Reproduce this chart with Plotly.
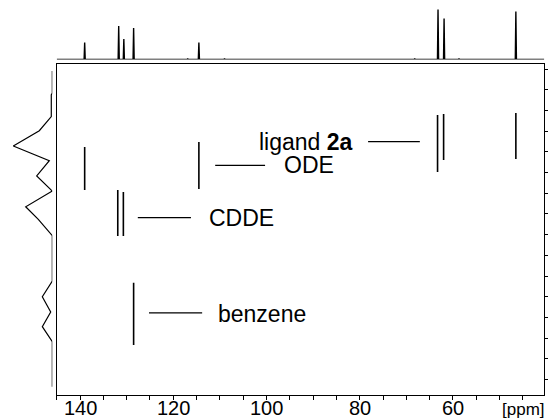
import plotly.graph_objects as go

# --- 1D 13C projection on top (ppm, relative intensity) ---
top_ppm = [139.0, 131.7, 130.6, 128.5, 116.9, 114.5, 109.0, 68.2, 63.2, 61.9, 58.7, 46.5]
top_int = [34, 67, 41, 63, 2, 34, 2, 2, 100, 82, 2, 96]

# --- 2D DOSY cross peaks: chemical shift and log D extent ---
peak_ppm = [139.0, 114.5, 131.9, 130.7, 128.5, 63.3, 62.0, 46.5]
peak_logd_top = [-9.224, -9.248, -9.016, -9.006, -8.567, -9.379, -9.384, -9.389]
peak_logd_bot = [-9.016, -9.021, -8.794, -8.794, -8.266, -9.103, -9.161, -9.166]

# --- diffusion projection on the left (log D, intensity) ---
proj_logd = [-9.592, -9.485, -9.476, -9.371, -9.303, -9.229, -9.158, -9.084, -9.011,
             -8.935, -8.874, -8.795, -8.576, -8.500, -8.426, -8.355, -8.282, -8.064]
proj_int = [0, 0, 2.6, 2.6, 33.3, 100, 7.7, 40, 0, 68.2, 35.9, 0, 0, 25.6, 4.1, 25.6, 0, 0]

# --- species labels ---
label_text = ["ligand <b>2a</b>", "ODE", "CDDE", "benzene"]
label_ppm = [101.8, 96.4, 112.5, 110.6]
label_logd = [-9.246, -9.135, -8.880, -8.418]
leader_logd = [-9.250, -9.135, -8.882, -8.422]
leader_from = [78.2, 111.0, 127.6, 125.2]
leader_to = [67.1, 100.3, 116.2, 113.8]

# --- chemical shift axis labels ---
ppm_ticks = [140, 120, 100, 80, 60]

X_RANGE = [145.0, 40.4]
Y_RANGE = [-8.0243, -9.6242]
FONT = "Liberation Sans, Arial, sans-serif"

# build the 1D spectrum as narrow sticks on a flat baseline
half_w = 0.12
spec_x, spec_y = [X_RANGE[0]], [0]
for p, h in sorted(zip(top_ppm, top_int), reverse=True):
    spec_x += [p + half_w, p, p - half_w]
    spec_y += [0, h, 0]
spec_x.append(X_RANGE[1])
spec_y.append(0)

# cross peaks as vertical segments
seg_x, seg_y = [], []
for p, a, b in zip(peak_ppm, peak_logd_top, peak_logd_bot):
    seg_x += [p, p, None]
    seg_y += [a, b, None]

fig = go.Figure()
fig.add_trace(go.Scatter(x=seg_x, y=seg_y, mode="lines",
                         line=dict(color="black", width=1.6), xaxis="x", yaxis="y",
                         hoverinfo="skip", showlegend=False))
fig.add_trace(go.Scatter(x=spec_x, y=spec_y, mode="lines",
                         line=dict(color="black", width=1.4), xaxis="x", yaxis="y3",
                         hoverinfo="skip", showlegend=False))
fig.add_trace(go.Scatter(x=proj_int, y=proj_logd, mode="lines",
                         line=dict(color="black", width=1.2), xaxis="x2", yaxis="y",
                         hoverinfo="skip", showlegend=False))

for t, px, ly, lly, a, b in zip(label_text, label_ppm, label_logd, leader_logd,
                                leader_from, leader_to):
    fig.add_annotation(x=px, y=ly, xref="x", yref="y", text=t, showarrow=False,
                       xanchor="left", yanchor="middle", borderpad=0,
                       font=dict(family=FONT, size=23, color="black"))
    fig.add_shape(type="line", xref="x", yref="y", x0=a, x1=b, y0=lly, y1=lly,
                  line=dict(color="black", width=1.2))

# tick labels sit close under the axis
for v in ppm_ticks:
    fig.add_annotation(x=v, y=0.0, xref="x", yref="paper", text=str(v),
                       showarrow=False, xanchor="center", yanchor="bottom", borderpad=0,
                       font=dict(family=FONT, size=20, color="black"))

fig.add_annotation(x=0.9559, y=0.0, xref="paper", yref="paper", text="[ppm]",
                   showarrow=False, xanchor="center", yanchor="bottom", borderpad=0,
                   font=dict(family=FONT, size=17, color="black"))

fig.update_layout(
    width=548, height=420, margin=dict(l=0, r=0, t=0, b=0, autoexpand=False),
    paper_bgcolor="white", plot_bgcolor="white",
    xaxis=dict(domain=[0.10347, 0.99325], range=X_RANGE, anchor="y", automargin=False,
               showgrid=False, zeroline=False, showline=True, mirror=True,
               linecolor="black", linewidth=1.2,
               ticks="outside", ticklen=4, tickwidth=1.2, tickcolor="black",
               tick0=0, dtick=20, showticklabels=False,
               minor=dict(dtick=5, ticks="outside", ticklen=4, tickwidth=1.2,
                          tickcolor="black", showgrid=False)),
    yaxis=dict(domain=[0.05952, 0.84690], range=Y_RANGE, anchor="x", side="right",
               automargin=False,
               showgrid=False, zeroline=False, showline=True, mirror=True,
               linecolor="black", linewidth=1.2,
               ticks="outside", ticklen=3, tickwidth=1.2, tickcolor="black",
               tick0=-9.6, dtick=0.1, showticklabels=False),
    xaxis2=dict(domain=[0, 0.09544], range=[134.1, 0], anchor="y", visible=False),
    yaxis3=dict(domain=[0.85833, 1.0], range=[0, 119], anchor="x", visible=False),
)

fig.write_html("out.html")
